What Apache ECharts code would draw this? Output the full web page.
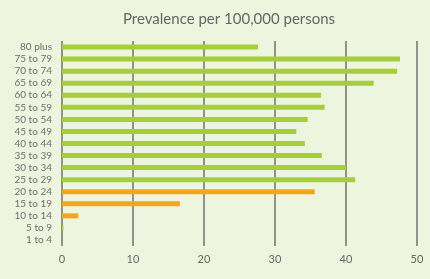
<!DOCTYPE html>
<html lang="en">
<head>
  <meta charset="UTF-8">
  <title>Prevalence per 100,000 persons</title>
  <script src="https://cdn.jsdelivr.net/npm/echarts@6/dist/echarts.min.js"></script>
  <style>
    html, body { margin: 0; padding: 0; background: #eef5df; }
    #chart { width: 430px; height: 279px; }
  </style>
</head>
<body>
  <div id="chart"></div>
  <script type="text/javascript">
    // age groups, bottom to top
    var ageGroups = ['1 to 4', '5 to 9', '10 to 14', '15 to 19', '20 to 24', '25 to 29', '30 to 34', '35 to 39',
                     '40 to 44', '45 to 49', '50 to 54', '55 to 59', '60 to 64', '65 to 69', '70 to 74', '75 to 79', '80 plus'];
    var prevalence = [0, 0.2, 2.3, 16.6, 35.6, 41.3, 40.0, 36.6, 34.2, 33.0, 34.6, 37.0, 36.5, 43.9, 47.2, 47.6, 27.6];
    // highlighted (orange) groups
    var highlighted = ['10 to 14', '15 to 19', '20 to 24'];
    var xTicks = [0, 10, 20, 30, 40, 50];

    var myChart = echarts.init(document.getElementById('chart'));
    var option = {
      backgroundColor: '#eef5df',
      title: {
        text: 'Prevalence per 100,000 persons',
        left: 118,
        top: 7,
        textStyle: { fontFamily: 'Lato', fontWeight: 'normal', fontSize: 15, color: '#666' }
      },
      grid: { left: 62, right: 13, top: 41, bottom: 33 },
      xAxis: {
        type: 'value',
        min: xTicks[0],
        max: xTicks[xTicks.length - 1],
        interval: 10,
        axisLine: { show: false },
        axisTick: { show: false },
        axisLabel: { fontFamily: 'Lato', fontSize: 11, color: '#666', margin: 8 },
        splitLine: { show: true, lineStyle: { color: '#707070', width: 1.5 } }
      },
      yAxis: {
        type: 'category',
        data: ageGroups,
        axisLine: { show: false },
        axisTick: { show: false },
        axisLabel: { interval: 0, fontFamily: 'Lato', fontSize: 10, color: '#6e6e6e', margin: 10 }
      },
      series: [{
        type: 'bar',
        barWidth: 5,
        data: prevalence.map(function (v, i) {
          var hl = highlighted.indexOf(ageGroups[i]) >= 0;
          return { value: v, itemStyle: { color: hl ? '#f6a51e' : '#a6cd3a' } };
        })
      }]
    };
    option && myChart.setOption(option);
  </script>
</body>
</html>
